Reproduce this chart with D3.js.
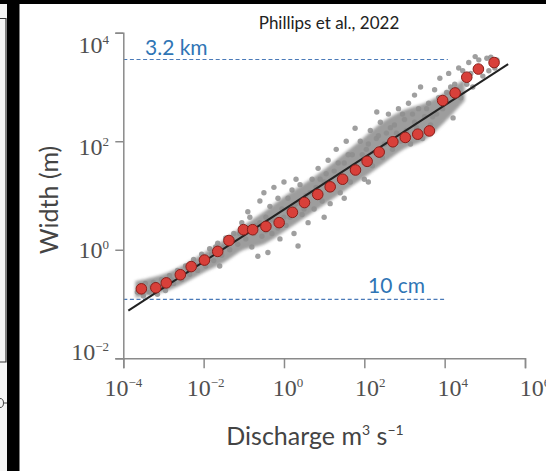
<!DOCTYPE html>
<html>
<head>
<meta charset="utf-8">
<script src="https://cdn.jsdelivr.net/npm/d3@7"></script>
<style>
  body { margin: 0; background: #000; }
  svg { display: block; }
  .tick-label { font-family: 'Liberation Serif', serif; font-size: 24px; fill: #505050; }
  .axis-title { font-family: Lato, sans-serif; font-size: 25px; fill: #444; }
  .ref-label { font-family: Lato, sans-serif; font-size: 21px; fill: #2f75b5; }
</style>
</head>
<body>
<svg id="chart" width="546" height="471"></svg>
<script>
// tick values (powers of ten)
var xTicks = [1e-4, 1e-2, 1e0, 1e2, 1e4, 1e6];
var yTicks = [1e-2, 1e0, 1e2, 1e4];

// binned means (red dots), log10 of discharge and width
var binLogQ = [-3.55, -3.19, -2.93, -2.58, -2.31, -1.98, -1.65, -1.37, -1.01, -0.78,
               -0.45, -0.12, 0.21, 0.51, 0.84, 1.15, 1.46, 1.78, 2.07, 2.37,
               2.71, 3.02, 3.33, 3.62, 3.95, 4.26, 4.55, 4.84, 5.23];
var binLogW = [-0.72, -0.70, -0.61, -0.46, -0.31, -0.19, -0.03, 0.17, 0.37, 0.37,
               0.43, 0.50, 0.69, 0.87, 1.02, 1.16, 1.30, 1.47, 1.63, 1.80,
               1.99, 2.07, 2.13, 2.19, 2.75, 2.89, 3.18, 3.33, 3.45];

// power-law fit, two end points (log10)
var fitLogQ = [-3.875, 5.58];
var fitLogW = [-1.12, 3.42];

// dense part of the gray cloud: log10 Q and lower / upper log10 W
var coreLogQ = [-3.7, -3.0, -2.5, -2.0, -1.5, -1.0, -0.5, 0, 0.5, 1.0, 1.5, 2.0, 2.5, 3.0, 3.5, 4.0, 4.5];
var coreLo   = [-0.88, -0.78, -0.62, -0.42, -0.24, 0.0, 0.1, 0.33, 0.58, 0.83, 1.08, 1.33, 1.6, 1.86, 2.02, 2.35, 2.75];
var coreHi   = [-0.58, -0.45, -0.28, -0.06, 0.18, 0.45, 0.7, 0.98, 1.22, 1.48, 1.78, 2.08, 2.38, 2.58, 2.7, 2.9, 3.15];

// individual gray points [log10 Q, log10 W]
var cloudPts = [
  [-3.65,-0.78],[-3.5,-0.85],[-3.45,-0.62],[-3.35,-0.78],[-3.25,-0.6],[-3.15,-0.82],[-3.05,-0.55],
  [-2.95,-0.75],[-2.85,-0.48],[-2.75,-0.62],[-2.65,-0.38],[-2.55,-0.55],[-2.45,-0.3],[-2.35,-0.45],
  [-2.25,-0.18],[-2.15,-0.38],[-2.05,-0.08],[-1.95,-0.3],[-1.85,0.02],[-1.75,-0.2],[-1.65,0.12],
  [-1.55,-0.1],[-1.45,0.22],[-1.6,-0.3],[-1.35,0.0],[-1.25,0.3],[-1.15,0.1],
  [-1.05,0.5],[-0.95,0.2],[-0.85,0.6],[-0.8,0.05],[-0.7,0.45],[-0.65,-0.12],[-0.6,0.9],[-0.55,0.25],
  [-0.5,1.05],[-0.45,0.6],[-0.4,-0.05],[-0.35,0.8],[-0.3,0.3],[-0.25,1.15],[-0.2,0.55],[-0.15,0.95],
  [-0.1,0.2],[-0.05,0.75],[0.0,1.25],[0.05,0.45],[0.1,0.95],[0.15,0.6],[0.2,1.1],[0.25,0.3],
  [0.3,0.85],[0.35,0.07],[0.4,1.2],[0.45,0.65],[0.55,1.0],[0.6,0.5],
  [0.7,1.3],[0.75,0.75],[0.85,1.5],[0.95,0.9],[1.0,1.25],[1.1,1.65],[1.15,0.85],[1.25,1.45],
  [1.3,1.85],[1.4,1.05],[1.5,1.6],[1.55,2.0],[1.65,1.25],[1.7,1.75],[1.77,2.24],[1.85,1.45],
  [1.9,2.0],[2.0,1.3],[2.05,1.85],[2.15,2.2],[2.2,1.55],[2.3,2.05],[2.31,2.54],[2.4,2.35],[2.45,1.7],
  [2.55,2.15],[2.6,2.5],[2.7,1.85],[2.75,2.3],[2.85,2.6],[2.9,2.0],[3.0,2.4],[3.1,2.7],[3.15,1.95],
  [3.25,2.85],[3.25,2.35],[3.35,2.6],[3.4,3.0],[3.45,2.05],[3.5,2.45],
  [3.6,2.7],[3.65,2.3],[3.75,2.95],[3.8,2.5],[3.88,3.16],[3.95,2.6],[4.05,2.9],[4.1,3.25],[4.21,2.43],
  [4.25,3.05],[4.35,3.35],[4.4,2.8],[4.5,3.15],[4.6,3.45],[4.7,3.0],[4.76,3.56],[4.85,3.5],
  [4.95,3.2],[5.05,3.53],[5.15,3.55],[5.25,3.35],[5.3,3.5],
  [-3.55,-0.7],[-3.3,-0.68],[-3.0,-0.66],[-2.8,-0.55],[-2.6,-0.47],[-2.4,-0.38],[-2.2,-0.28],
  [-2.0,-0.18],[-1.8,-0.08],[-1.7,0.05],[-1.5,0.05],[-1.3,0.15],[-1.1,0.3],[-0.9,0.4],[-0.75,0.3],
  [-0.6,0.5],[-0.45,0.35],[-0.3,0.55],[-0.15,0.4],[0.0,0.6],[0.1,0.75],[0.25,0.8],[0.4,0.9],
  [0.5,0.75],[0.65,1.05],[0.8,1.15],[0.9,1.3],[1.05,1.4],[1.2,1.2],[1.35,1.6],[1.45,1.35],
  [1.6,1.75],[1.75,1.55],[1.95,1.75],[2.1,1.95],[2.25,1.8],[2.35,2.1],[2.5,1.95],[2.65,2.25],
  [2.8,2.15],[2.95,2.5],[3.05,2.2],[3.2,2.5],[3.3,2.25],[3.55,2.6],[3.7,2.45],[3.85,2.8],
  [4.0,2.7],[4.15,3.0],[4.3,2.95],[4.45,3.3],[4.55,3.05],[4.65,3.25],[4.9,3.35],[5.1,3.3],
  [1.0,0.6],[1.5,0.95],[-0.9,0.7],[0.3,1.3],[2.1,1.25]
];

// reference width lines
var refLabels = ['3.2 km', '10 cm'];
var refWidth  = [3200, 0.122];
var refEndQ   = [1.2e4, 9.8e3];

var svg = d3.select('#chart');

// black sheet with the white figure panel and the cut-off neighbour on the left
svg.append('rect').attr('width', 546).attr('height', 471).attr('fill', '#000');
svg.append('rect').attr('x', 0).attr('y', 4).attr('width', 7).attr('height', 467).attr('fill', '#f4f4f4');
svg.append('path').attr('d', 'M0,18.5H6V362H0').attr('fill', 'none').attr('stroke', '#333').attr('stroke-width', 1.2);
// bit of a glyph from the neighbouring figure
svg.append('path').attr('d', 'M0,398.5a3.5,4.5 0 0 1 0,9M4,403H7')
    .attr('fill', 'none').attr('stroke', '#444').attr('stroke-width', 1);
svg.append('rect').attr('x', 19.5).attr('y', 4).attr('width', 527).attr('height', 467).attr('fill', '#fff');

var x = d3.scaleLog().domain([1e-4, 1e6]).range([123.3, 525]);
var y = d3.scaleLog().domain([1e-2, 1e4]).range([358.3, 32.7]);

// labels of the original figure sit slightly off their ticks
var xLab = d3.scaleLog().domain([1e-4, 1e6]).range([123.3, 535]);
var yLab = d3.scaleLog().domain([1e-2, 1e4]).range([360, 53]);

function p10(v) { return Math.pow(10, v); }

// blur for the dense cloud
var defs = svg.append('defs');
defs.append('filter').attr('id', 'soft').attr('x', '-20%').attr('y', '-20%')
    .attr('width', '140%').attr('height', '140%')
  .append('feGaussianBlur').attr('stdDeviation', 1.6);

// dense gray band
var core = coreLogQ.map(function(q, i) { return { q: q, lo: coreLo[i], hi: coreHi[i] }; });
svg.append('path')
    .datum(core)
    .attr('d', d3.area()
        .x(function(d) { return x(p10(d.q)); })
        .y0(function(d) { return y(p10(d.lo)); })
        .y1(function(d) { return y(p10(d.hi)); })
        .curve(d3.curveCatmullRom))
    .attr('fill', '#8c8c8c')
    .attr('opacity', 0.85)
    .attr('filter', 'url(#soft)');

// gray points
svg.append('g').selectAll('circle')
    .data(cloudPts)
    .join('circle')
    .attr('cx', function(d) { return x(p10(d[0])); })
    .attr('cy', function(d) { return y(p10(d[1])); })
    .attr('r', 2.7)
    .attr('fill', '#8e8e8e')
    .attr('opacity', 0.85);

// reference dashed lines
refLabels.forEach(function(lab, i) {
    svg.append('line')
        .attr('x1', x(1e-4)).attr('x2', x(refEndQ[i]))
        .attr('y1', y(refWidth[i])).attr('y2', y(refWidth[i]))
        .attr('stroke', '#4a7ab8').attr('stroke-width', 1.1)
        .attr('stroke-dasharray', '4,2.6');
});
svg.append('text').attr('class', 'ref-label').attr('x', 145).attr('y', 55).text(refLabels[0]);
svg.append('text').attr('class', 'ref-label').attr('x', 368).attr('y', 293).text(refLabels[1]);

// fit line
svg.append('line')
    .attr('x1', x(p10(fitLogQ[0]))).attr('y1', y(p10(fitLogW[0])))
    .attr('x2', x(p10(fitLogQ[1]))).attr('y2', y(p10(fitLogW[1])))
    .attr('stroke', '#222').attr('stroke-width', 2);

// binned means
svg.append('g').selectAll('circle')
    .data(binLogQ)
    .join('circle')
    .attr('cx', function(d) { return x(p10(d)); })
    .attr('cy', function(d, i) { return y(p10(binLogW[i])); })
    .attr('r', 5.3)
    .attr('fill', '#d8403a')
    .attr('stroke', '#8a1f1a')
    .attr('stroke-width', 1);

// axes (lines only, labels drawn below)
var gx = svg.append('g').attr('transform', 'translate(0,358.3)')
    .call(d3.axisBottom(x).tickValues(xTicks).tickSize(10).tickFormat(''));
var gy = svg.append('g').attr('transform', 'translate(123.3,0)')
    .call(d3.axisLeft(y).tickValues(yTicks).tickSize(8).tickFormat(''));
[gx, gy].forEach(function(g) {
    g.selectAll('path, line').attr('stroke', '#8a8a8a').attr('stroke-width', 1.5);
});

function powLabel(sel) {
    sel.text('10');
    sel.append('tspan')
        .attr('dy', -9)
        .attr('font-size', 13)
        .text(function(d) {
            var e = Math.round(Math.log10(d));
            return e < 0 ? '\u2212' + (-e) : e;
        });
}

svg.append('g').selectAll('text')
    .data(xTicks)
    .join('text')
    .attr('class', 'tick-label')
    .attr('text-anchor', 'middle')
    .attr('x', function(d) { return xLab(d); })
    .attr('y', 396)
    .call(powLabel);

svg.append('g').selectAll('text')
    .data(yTicks)
    .join('text')
    .attr('class', 'tick-label')
    .attr('text-anchor', 'end')
    .attr('x', 109)
    .attr('y', function(d) { return yLab(d); })
    .call(powLabel);

// titles
svg.append('text').attr('x', 329).attr('y', 29)
    .attr('text-anchor', 'middle')
    .attr('font-family', 'Lato, sans-serif').attr('font-size', 17).attr('fill', '#222')
    .text('Phillips et al., 2022');

svg.append('text').attr('class', 'axis-title')
    .attr('transform', 'translate(58,200) rotate(-90)')
    .attr('text-anchor', 'middle')
    .text('Width (m)');

var xt = svg.append('text').attr('class', 'axis-title')
    .attr('x', 315).attr('y', 445)
    .attr('text-anchor', 'middle');
xt.append('tspan').text('Discharge m');
xt.append('tspan').attr('dy', -10).attr('font-size', 14).text('3');
xt.append('tspan').attr('dy', 10).text(' s');
xt.append('tspan').attr('dy', -10).attr('font-size', 14).text('\u22121');
</script>
</body>
</html>
